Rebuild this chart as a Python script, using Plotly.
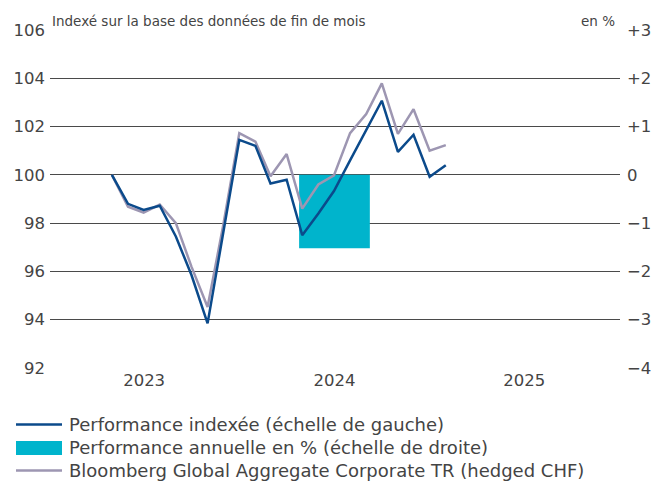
import plotly.graph_objects as go

months = ["2023-04-30", "2023-05-31", "2023-06-30", "2023-07-31", "2023-08-31", "2023-09-30",
          "2023-10-31", "2023-11-30", "2023-12-31", "2024-01-31", "2024-02-29", "2024-03-31",
          "2024-04-30", "2024-05-31", "2024-06-30", "2024-07-31", "2024-08-31", "2024-09-30",
          "2024-10-31", "2024-11-30", "2024-12-31", "2025-01-31"]

perf_index = [100.0, 98.8, 98.55, 98.72, 97.45, 95.85, 93.85, 97.67, 101.45, 101.2, 99.64, 99.8,
              97.5, 98.4, 99.33, 100.6, 101.84, 103.07, 100.95, 101.66, 99.92, 100.4]

benchmark = [100.0, 98.68, 98.44, 98.77, 98.0, 96.2, 94.53, 97.9, 101.73, 101.38, 99.94, 100.86,
             98.6, 99.6, 99.98, 101.73, 102.52, 103.79, 101.7, 102.72, 101.0, 101.23]

bar_years = ["2024-07-01"]
bar_values = [-1.52]

left_ticks = [92, 94, 96, 98, 100, 102, 104, 106]
right_ticks = [-4, -3, -2, -1, 0, 1, 2, 3]
right_labels = ["\u22124", "\u22123", "\u22122", "\u22121", "0", "+1", "+2", "+3"]
year_ticks = ["2023-07-01", "2024-07-01", "2025-07-01"]
year_labels = ["2023", "2024", "2025"]

legend_labels = ["Performance indexée (échelle de gauche)",
                 "Performance annuelle en % (échelle de droite)",
                 "Bloomberg Global Aggregate Corporate TR (hedged CHF)"]

DARK = "#0b4a8b"
GRAY = "#9d96b2"
CYAN = "#00b4cc"
TXT = "#444444"
FONT = "DejaVu Sans"

W, H = 663, 484
ML, MR, MT, MB = 50, 43, 30, 116
PW, PH = W - ML - MR, H - MT - MB


def px_x(px):
    return (px - ML) / PW


def px_y(py):
    return (H - MB - py) / PH


fig = go.Figure()

fig.add_trace(go.Bar(
    x=bar_years, y=bar_values, yaxis="y",
    width=[136 * 24 * 3600 * 1000],
    marker=dict(color=CYAN, line=dict(width=0)),
    name=legend_labels[1], showlegend=False,
))
fig.add_trace(go.Scatter(
    x=months, y=benchmark, yaxis="y2", mode="lines",
    line=dict(color=GRAY, width=2.5),
    name=legend_labels[2], showlegend=False,
))
fig.add_trace(go.Scatter(
    x=months, y=perf_index, yaxis="y2", mode="lines",
    line=dict(color=DARK, width=2.5),
    name=legend_labels[0], showlegend=False,
))

# custom legend (layout decoration)
rows = [424.5, 448, 470.5]
shapes = [
    dict(type="line", xref="paper", yref="paper", x0=px_x(16), x1=px_x(62),
         y0=px_y(rows[0]), y1=px_y(rows[0]), line=dict(color=DARK, width=2.5)),
    dict(type="rect", xref="paper", yref="paper", x0=px_x(16), x1=px_x(62),
         y0=px_y(rows[1] + 7), y1=px_y(rows[1] - 7), line=dict(width=0), fillcolor=CYAN),
    dict(type="line", xref="paper", yref="paper", x0=px_x(16), x1=px_x(62),
         y0=px_y(rows[2]), y1=px_y(rows[2]), line=dict(color=GRAY, width=2.5)),
]
annotations = [
    dict(text="Indexé sur la base des données de fin de mois", xref="paper", yref="paper",
         x=0, y=1, xanchor="left", yanchor="bottom", showarrow=False,
         font=dict(size=13.5, color=TXT), yshift=-1),
    dict(text="en %", xref="paper", yref="paper",
         x=1, y=1, xanchor="right", yanchor="bottom", showarrow=False,
         font=dict(size=13.5, color=TXT), yshift=-1, xshift=-3),
]
for r, lab in zip(rows, legend_labels):
    annotations.append(dict(text=lab, xref="paper", yref="paper", x=px_x(67), y=px_y(r),
                            xanchor="left", yanchor="middle", showarrow=False,
                            font=dict(size=18, color=TXT)))

fig.update_layout(
    width=W, height=H,
    margin=dict(l=ML, r=MR, t=MT, b=MB, autoexpand=False),
    paper_bgcolor="white", plot_bgcolor="white",
    font=dict(family=FONT, color=TXT, size=16.5),
    showlegend=False,
    xaxis=dict(
        type="date", range=["2023-01-01", "2026-01-01"],
        tickvals=year_ticks, ticktext=year_labels,
        showgrid=False, zeroline=False, showline=False, ticks="",
        tickfont=dict(size=16.5), automargin=False,
    ),
    yaxis=dict(
        side="right", range=[-4, 3], tickvals=right_ticks, ticktext=right_labels,
        showgrid=True, gridcolor="#4a4a4a", gridwidth=1,
        zeroline=False, showline=False, ticks="",
        tickfont=dict(size=16.5), ticklabelstandoff=6, automargin=False,
    ),
    yaxis2=dict(
        side="left", overlaying="y", range=[92, 106], tickvals=left_ticks,
        showgrid=False, zeroline=False, showline=False, ticks="",
        tickfont=dict(size=16.5), ticklabelstandoff=4, automargin=False,
    ),
    shapes=shapes,
    annotations=annotations,
)

fig.write_html("out.html", config={"displayModeBar": False},
               post_script="document.body.style.margin='0';")
